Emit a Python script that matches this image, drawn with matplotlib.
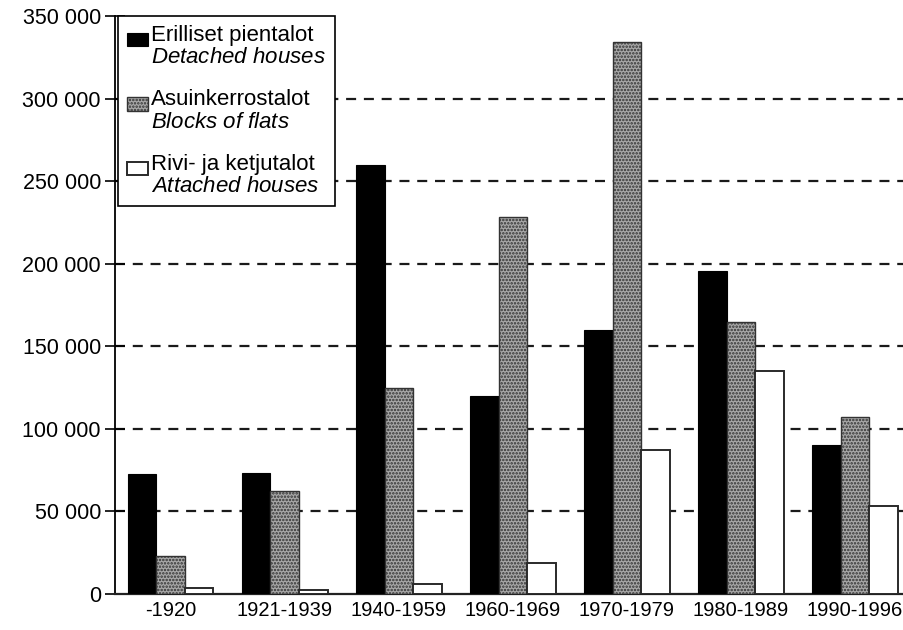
"""
Asuntokanta talotyypin ja rakennusvuoden mukaan
"""
import numpy as np
import matplotlib
matplotlib.use("Agg")
import matplotlib.pyplot as plt
from matplotlib.ticker import FuncFormatter
from matplotlib.patches import Rectangle
from matplotlib.container import BarContainer
from matplotlib.legend_handler import HandlerPatch, update_from_first_child

plt.rcParams['font.family'] = ['Liberation Sans', 'DejaVu Sans']
plt.rcParams['mathtext.fontset'] = 'custom'
plt.rcParams['mathtext.rm'] = 'Liberation Sans'
plt.rcParams['mathtext.it'] = 'Liberation Sans:italic'
plt.rcParams['hatch.linewidth'] = 1.2

periods = ["-1920", "1921-1939", "1940-1959", "1960-1969",
           "1970-1979", "1980-1989", "1990-1996"]
detached = [72700, 73300, 259800, 119900, 159900, 195600, 90200]
flats = [23000, 62400, 124700, 228300, 334200, 164700, 107200]
attached = [3600, 2400, 6000, 18800, 87200, 135000, 53300]
labels = ["Erilliset pientalot\n$\\mathit{Detached\\ houses}$",
          "Asuinkerrostalot\n$\\mathit{Blocks\\ of\\ flats}$",
          "Rivi- ja ketjutalot\n$\\mathit{Attached\\ houses}$"]
yticks = [0, 50000, 100000, 150000, 200000, 250000, 300000, 350000]

fig = plt.figure(figsize=(9.04, 6.30), dpi=100)
ax = fig.add_axes([0.127, 0.0571, 0.873, 0.9175])

x = np.arange(len(periods))
w = 0.25
ax.bar(x - w, detached, w, color='black', edgecolor='black', linewidth=0.8,
       label=labels[0], zorder=3)
ax.bar(x, flats, w, color='#a8a8a8', edgecolor='#333333', hatch='.....',
       linewidth=1.0, label=labels[1], zorder=3)
ax.bar(x + w, attached, w, color='white', edgecolor='#2a2a2a', linewidth=1.4,
       label=labels[2], zorder=3)

for t in yticks[1:-1]:
    ax.axhline(t, color='#1a1a1a', linestyle=(0, (4.5, 3.5)), linewidth=1.6, zorder=1)

ax.set_xlim(-0.49, 6.43)
ax.set_ylim(0, 350000)
ax.set_yticks(yticks)
ax.yaxis.set_major_formatter(FuncFormatter(lambda v, p: f"{int(v):,}".replace(",", " ")))
ax.set_xticks(x)
ax.set_xticklabels(periods)
ax.tick_params(axis='y', direction='inout', length=14, width=1.2, labelsize=15.5, pad=3)
ax.tick_params(axis='x', length=0, labelsize=14.5, pad=5)

ax.spines['top'].set_visible(False)
ax.spines['right'].set_visible(False)
ax.spines['left'].set_linewidth(1.3)
ax.spines['bottom'].set_linewidth(1.6)
ax.spines['bottom'].set_color('#222222')


# legend key sits level with the first (Finnish) line
def top_patch(legend, orig_handle, xdescent, ydescent, width, height, fontsize):
    h = 0.6 * fontsize
    return Rectangle((-xdescent, -ydescent + height - h - 0.12 * fontsize), width, h)


lg = ax.legend(loc='upper left', bbox_to_anchor=(0.004, 1.0), borderaxespad=0,
               fancybox=False, framealpha=1, edgecolor='black', fontsize=16,
               handlelength=0.95, handleheight=2.0, handletextpad=0.15,
               labelspacing=0.95, borderpad=0.4,
               handler_map={BarContainer: HandlerPatch(patch_func=top_patch,
                                                       update_func=update_from_first_child)})
lg.get_frame().set_linewidth(1.2)
lg.set_zorder(5)
for t in lg.get_texts():
    t.set_linespacing(1.08)

fig.savefig("out.png", dpi=100)
